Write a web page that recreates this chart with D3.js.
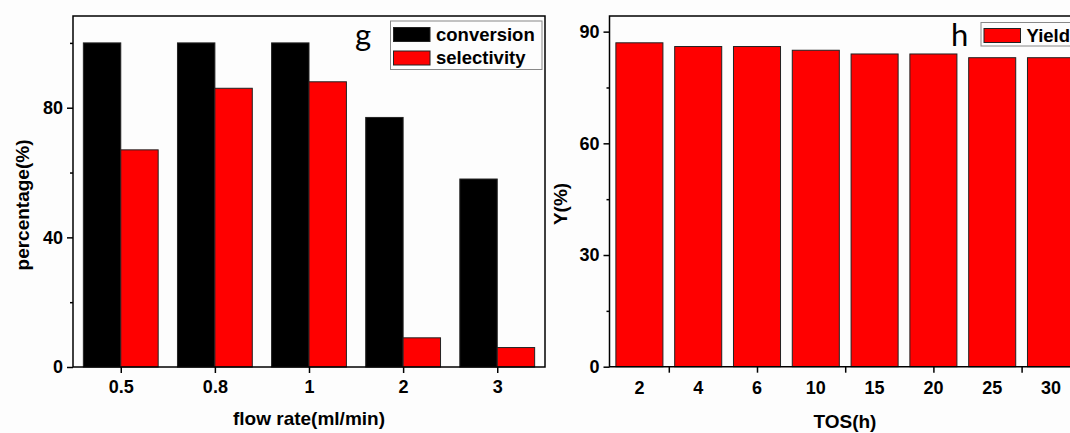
<!DOCTYPE html>
<html>
<head>
<meta charset="utf-8">
<script src="https://cdn.jsdelivr.net/npm/d3@7"></script>
<style>
  body { margin: 0; background: #fff; }
  svg { display: block; }
  text { font-family: "Liberation Sans", Arial, sans-serif; fill: #000; }
  .tick text { font-size: 18px; font-weight: bold; }
  .tick line { stroke: #000; stroke-width: 1.5; }
  .title { font-size: 19px; font-weight: bold; }
</style>
</head>
<body>
<div id="chart"></div>
<script>
// panel g : flow rate
const flowRates = ["0.5", "0.8", "1", "2", "3"];
const conversion = [100, 100, 100, 77, 58];
const selectivity = [67, 86, 88, 9, 6];
const seriesNames = ["conversion", "selectivity"];
const seriesColors = ["#000000", "#ff0000"];
const gMajor = [0, 40, 80];
const gMinor = [20, 60, 100];

// panel h : time on stream
const tosLabels = ["2", "4", "6", "10", "15", "20", "25", "30"];
const yieldVals = [87, 86, 86, 85, 84, 84, 83, 83];
const tosTickPos = [0.5, 2, 3.5, 5, 6.5];
const hMajor = [0, 30, 60, 90];
const hMinor = [15, 45, 75];

const width = 1070, height = 433;

const svg = d3.select('#chart').append('svg')
    .attr('width', width)
    .attr('height', height);

svg.append('rect').attr('width', width).attr('height', height).attr('fill', '#fdfdfd');

function yAxes(g, y, major, minor, x0) {
    g.append('g')
        .attr('transform', 'translate(' + x0 + ',0)')
        .call(d3.axisLeft(y).tickValues(major).tickSize(6).tickPadding(4))
        .call(a => a.select('.domain').remove());
    g.append('g')
        .attr('transform', 'translate(' + x0 + ',0)')
        .call(d3.axisLeft(y).tickValues(minor).tickSize(3).tickFormat(''))
        .call(a => a.select('.domain').remove());
}

// ---------- panel g ----------
{
    const left = 73, right = 545, top = 16, bottom = 367;
    const g = svg.append('g');

    const y = d3.scaleLinear().domain([0, 108.3]).range([bottom, top]);
    const x0 = d3.scaleBand().domain(flowRates).range([left, right])
        .paddingInner(0.205).paddingOuter(0.11);
    const x1 = d3.scaleBand().domain(seriesNames).range([0, x0.bandwidth()]);
    const color = d3.scaleOrdinal(seriesNames, seriesColors);

    const rows = flowRates.map((f, i) => ({f: f, vals: [conversion[i], selectivity[i]]}));

    g.append('g').selectAll('g')
        .data(rows)
        .enter().append('g')
        .attr('transform', d => 'translate(' + x0(d.f) + ',0)')
        .selectAll('rect')
        .data(d => d.vals.map((v, j) => ({s: seriesNames[j], v: v})))
        .enter().append('rect')
        .attr('x', d => x1(d.s))
        .attr('width', x1.bandwidth())
        .attr('y', d => y(d.v))
        .attr('height', d => bottom - y(d.v))
        .attr('fill', d => color(d.s))
        .attr('stroke', '#222')
        .attr('stroke-width', 1);

    g.append('rect')
        .attr('x', left).attr('y', top)
        .attr('width', right - left).attr('height', bottom - top)
        .attr('fill', 'none').attr('stroke', '#000').attr('stroke-width', 1.5);

    yAxes(g, y, gMajor, gMinor, left);

    g.append('g')
        .attr('transform', 'translate(0,' + bottom + ')')
        .call(d3.axisBottom(d3.scalePoint().domain(flowRates)
            .range([x0(flowRates[0]) + x0.bandwidth() / 2, x0(flowRates[4]) + x0.bandwidth() / 2]))
            .tickSize(6).tickPadding(7))
        .call(a => a.select('.domain').remove());

    g.append('text').attr('class', 'title')
        .attr('x', (left + right) / 2).attr('y', 425)
        .attr('text-anchor', 'middle')
        .text('flow rate(ml/min)');

    g.append('text').attr('class', 'title')
        .attr('transform', 'translate(29,205) rotate(-90)')
        .attr('text-anchor', 'middle')
        .text('percentage(%)');

    g.append('text')
        .attr('x', 355).attr('y', 46)
        .style('font-family', 'Lato, sans-serif')
        .style('font-size', '31px')
        .text('g');

    // legend
    const lg = g.append('g');
    lg.append('rect')
        .attr('x', 390.5).attr('y', 21)
        .attr('width', 151.5).attr('height', 48.5)
        .attr('fill', '#fdfdfd').attr('stroke', '#888').attr('stroke-width', 1);
    seriesNames.forEach((s, i) => {
        lg.append('rect')
            .attr('x', 393.5).attr('y', 27.5 + i * 23.5)
            .attr('width', 36.5).attr('height', 14)
            .attr('fill', color(s)).attr('stroke', '#222');
        lg.append('text')
            .attr('x', 436).attr('y', 40.5 + i * 23.5)
            .style('font-size', '18.5px').style('font-weight', 'bold')
            .text(s);
    });
}

// ---------- panel h ----------
{
    const left = 609.5, right = 1082, top = 16, bottom = 366.7;
    const g = svg.append('g');

    const y = d3.scaleLinear().domain([0, 94.2]).range([bottom, top]);
    const x = d3.scaleLinear().domain([-0.5, 7.5]).range([610, 1080.4]);
    const step = x(1) - x(0);
    const bw = step * 0.8;

    g.append('g').selectAll('rect')
        .data(yieldVals)
        .enter().append('rect')
        .attr('x', (d, i) => x(i) - bw / 2)
        .attr('width', bw)
        .attr('y', d => y(d))
        .attr('height', d => bottom - y(d))
        .attr('fill', '#ff0000')
        .attr('stroke', '#222')
        .attr('stroke-width', 1);

    g.append('path')
        .attr('d', 'M' + right + ',' + top + 'H' + left + 'V' + bottom + 'H' + right)
        .attr('fill', 'none').attr('stroke', '#000').attr('stroke-width', 1.5);

    yAxes(g, y, hMajor, hMinor, left);

    // tick marks (unlabelled) and labels under the bars
    g.append('g')
        .attr('transform', 'translate(0,' + bottom + ')')
        .call(d3.axisBottom(x).tickValues(tosTickPos).tickSize(6).tickFormat(''))
        .call(a => a.select('.domain').remove());

    g.append('g').selectAll('text')
        .data(tosLabels)
        .enter().append('text')
        .attr('x', (d, i) => x(i))
        .attr('y', 394)
        .attr('text-anchor', 'middle')
        .style('font-size', '18px').style('font-weight', 'bold')
        .text(d => d);

    g.append('text').attr('class', 'title')
        .attr('x', (left + 1080.4) / 2).attr('y', 428)
        .attr('text-anchor', 'middle')
        .text('TOS(h)');

    g.append('text').attr('class', 'title')
        .attr('transform', 'translate(567,204) rotate(-90)')
        .attr('text-anchor', 'middle')
        .text('Y(%)');

    g.append('text')
        .attr('x', 951).attr('y', 46)
        .style('font-family', 'Lato, sans-serif')
        .style('font-size', '31px')
        .text('h');

    g.append('rect')
        .attr('x', 981).attr('y', 22.5)
        .attr('width', 120).attr('height', 23.5)
        .attr('fill', '#fdfdfd').attr('stroke', '#888').attr('stroke-width', 1);
    g.append('rect')
        .attr('x', 984).attr('y', 28.5)
        .attr('width', 36.5).attr('height', 14)
        .attr('fill', '#ff0000').attr('stroke', '#222');
    g.append('text')
        .attr('x', 1026.5).attr('y', 41.5)
        .style('font-size', '18.5px').style('font-weight', 'bold')
        .text('Yield');
}
</script>
</body>
</html>
